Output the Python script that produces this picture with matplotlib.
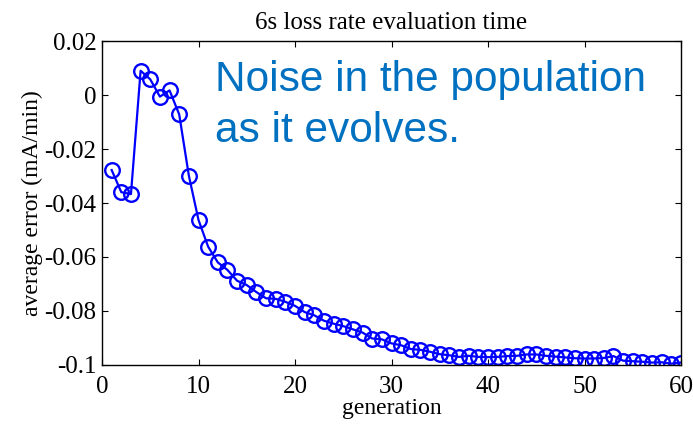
import numpy as np
import matplotlib
matplotlib.use('Agg')
import matplotlib.pyplot as plt

# average error per generation
generation = list(range(1, 61))
avg_error = [
    -0.0278, -0.0360, -0.0367, 0.0090, 0.0058, -0.0006, 0.0017, -0.0072, -0.0299, -0.0463,
    -0.0562, -0.0620, -0.0648, -0.0688, -0.0704, -0.0730, -0.0753, -0.0755, -0.0766, -0.0781,
    -0.0804, -0.0816, -0.0836, -0.0847, -0.0856, -0.0868, -0.0880, -0.0902, -0.0905, -0.0920,
    -0.0927, -0.0941, -0.0944, -0.0951, -0.0960, -0.0964, -0.0970, -0.0966, -0.0970, -0.0971,
    -0.0970, -0.0967, -0.0966, -0.0961, -0.0961, -0.0966, -0.0969, -0.0972, -0.0975, -0.0976,
    -0.0976, -0.0974, -0.0967, -0.0984, -0.0986, -0.0988, -0.0991, -0.0990, -0.0995, -0.0991,
]
xticks = [0, 10, 20, 30, 40, 50, 60]
yticks = [-0.1, -0.08, -0.06, -0.04, -0.02, 0, 0.02]
ytick_labels = ['-0.1', '-0.08', '-0.06', '-0.04', '-0.02', '0', '0.02']

plt.rcParams['font.family'] = 'Liberation Serif'
plt.rcParams['axes.unicode_minus'] = False

fig = plt.figure(figsize=(6.93, 4.25), dpi=100)
ax = fig.add_axes([0.1472, 0.1412, 0.8355, 0.7623])

ax.plot(generation, avg_error, '-o', color='#0000ff', lw=1.6,
        markersize=10.5, markerfacecolor='none', markeredgewidth=1.7)

ax.set_xlim(0, 60)
ax.set_ylim(-0.1, 0.02)
ax.set_xticks(xticks)
ax.set_yticks(yticks)
ax.set_yticklabels(ytick_labels)
ax.tick_params(direction='in', top=True, right=True, labelsize=18, length=4, width=0.8)
ax.tick_params(axis='x', pad=8)
ax.tick_params(axis='y', pad=4)
for s in ax.spines.values():
    s.set_linewidth(1.0)

ax.set_title('6s loss rate evaluation time', fontsize=18, pad=9)
ax.set_xlabel('generation', fontsize=17, labelpad=0)
ax.set_ylabel('average error (mA/min)', fontsize=17, labelpad=1)

ax.text(11.75, -0.0173, 'Noise in the population\nas it evolves.', family='Liberation Sans',
        fontsize=30.5, color='#0070c0', va='baseline', ha='left', linespacing=1.36)

fig.savefig('out.png', dpi=100)
